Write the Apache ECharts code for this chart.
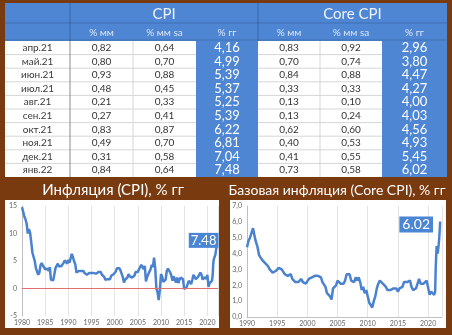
<!DOCTYPE html>
<html><head><meta charset="utf-8">
<script src="https://cdn.jsdelivr.net/npm/echarts@6/dist/echarts.min.js"></script>
<style>html,body{margin:0;padding:0;background:#7a3a10;}#c{width:452px;height:335px;}</style>
</head><body><div id="c"></div>
<script>
// ---- table data ----
const months = ['апр.21','май.21','июн.21','июл.21','авг.21','сен.21','окт.21','ноя.21','дек.21','янв.22'];
const cpiMM   = [0.82,0.80,0.93,0.48,0.21,0.27,0.83,0.49,0.31,0.84];
const cpiMMsa = [0.64,0.70,0.88,0.45,0.33,0.41,0.87,0.70,0.58,0.64];
const cpiYY   = [4.16,4.99,5.39,5.37,5.25,5.39,6.22,6.81,7.04,7.48];
const coreMM   = [0.83,0.70,0.84,0.33,0.13,0.13,0.62,0.40,0.41,0.73];
const coreMMsa = [0.92,0.74,0.88,0.33,0.10,0.24,0.60,0.53,0.55,0.58];
const coreYY   = [2.96,3.80,4.47,4.27,4.00,4.03,4.56,4.93,5.45,6.02];
const groupHeaders = ['CPI','Core CPI'];
const colHeaders = ['% мм','% мм sa','% гг','% мм','% мм sa','% гг'];

// ---- chart data (quarterly: Jan, Apr, Jul, Oct) ----
const cpiStartYear = 1980;
const cpiQuarterly = [
 14.8,14.7,13.1,12.6, 11.8,10.0,10.8,10.1, 8.4,6.5,6.4,5.0, 3.7,3.9,2.5,2.9,
 4.2,4.6,4.2,4.3, 3.5,3.7,3.6,3.2, 3.9,1.6,1.6,1.5, 1.5,3.8,3.9,4.5,
 4.0,3.9,4.1,4.2, 4.7,5.1,5.0,4.5, 5.2,4.7,4.8,6.3, 5.7,4.9,4.4,2.9,
 2.6,3.2,3.2,3.2, 3.3,3.2,2.8,2.8, 2.5,2.4,2.8,2.6, 2.8,3.1,2.8,2.8,
 2.7,2.9,3.0,3.0, 3.0,2.5,2.2,2.1, 1.6,1.4,1.7,1.5, 1.7,2.3,2.1,2.6,
 2.7,3.1,3.7,3.4, 3.7,3.3,2.7,2.1, 1.1,1.6,1.5,2.0, 2.6,2.2,2.1,2.0,
 1.9,2.3,3.0,3.2, 3.0,3.5,3.2,4.3, 4.0,3.5,4.1,1.3, 2.1,2.6,2.4,3.5,
 4.3,3.9,5.6,3.7, 0.0,-0.7,-2.1,-0.2, 2.6,2.2,1.2,1.2, 1.6,3.2,3.6,3.5,
 2.9,2.3,1.4,2.2, 1.6,1.1,2.0,1.0, 1.6,2.0,2.0,1.7, -0.1,-0.2,0.2,0.2,
 1.4,1.1,0.8,1.6, 2.5,2.2,1.7,2.0, 2.1,2.5,2.9,2.5, 1.6,2.0,1.8,1.8,
 2.5,0.3,1.0,1.2
];
const cpiEarly2021 = [1.4,1.7,2.6]; // Jan-Mar 2021, then cpiYY (Apr 21 - Jan 22)

const coreStartYear = 1990;
const coreQuarterly = [
 4.4,4.8,5.0,5.3, 5.6,5.1,4.7,4.4, 3.9,3.9,3.6,3.5, 3.4,3.4,3.2,3.0,
 2.9,2.8,2.9,2.9, 2.9,3.1,3.0,3.0, 2.9,2.7,2.7,2.6, 2.5,2.7,2.4,2.3,
 2.2,2.1,2.2,2.3, 2.4,2.2,2.1,2.1, 2.0,2.4,2.5,2.5, 2.6,2.6,2.7,2.6,
 2.6,2.5,2.2,2.2, 1.9,1.5,1.5,1.3, 1.1,1.8,1.8,2.0, 2.3,2.2,2.1,2.1,
 2.1,2.3,2.7,2.8, 2.7,2.3,2.2,2.2, 2.5,2.3,2.5,2.2, 1.7,1.9,1.5,1.7,
 1.6,0.9,0.9,0.6, 1.0,1.3,1.8,2.1, 2.3,2.3,2.1,2.0, 1.9,1.7,1.7,1.7,
 1.6,1.8,1.9,1.8, 1.6,1.8,1.8,1.9, 2.2,2.1,2.2,2.1, 2.3,1.9,1.7,1.8,
 1.8,2.1,2.4,2.1, 2.2,2.1,2.2,2.3, 2.3,1.4,1.6,1.6
];
const coreEarly2021 = [1.4,1.3,1.6];
const cpiYTicks = [-5,0,5,10,15];
const coreYTicks = [0,1,2,3,4,5,6,7];

function buildSeries(start, quarterly, early, table) {
  const pts = quarterly.map((v,i)=>[start + i/4, v]);
  early.concat(table).forEach((v,i)=>pts.push([2021 + i/12, v]));
  return pts;
}
const cpiData = buildSeries(cpiStartYear, cpiQuarterly, cpiEarly2021, cpiYY);
const coreData = buildSeries(coreStartYear, coreQuarterly, coreEarly2021, coreYY);

// ---- table drawing ----
const FONT = 'Lato, "Noto Sans", sans-serif';
const BLUE = '#4e86d3';
const cols = [5,70,133,196,258,320,382,447];
const tTop = 3, hMid = 23, dTop = 41, rowH = 13.6, nRows = months.length;
const tBot = dTop + rowH*nRows;
const g = [];
function rect(x,y,w,h,fill){ g.push({type:'rect',z:-5,shape:{x,y,width:w,height:h},style:{fill}}); }
function line(x1,y1,x2,y2,stroke,w){ g.push({type:'line',z:-4,shape:{x1,y1,x2,y2},style:{stroke,lineWidth:w||1}}); }
function text(x,y,t,size,fill){ g.push({type:'text',z:5,x,y,style:{text:t,fill,font:size+'px '+FONT,align:'center',verticalAlign:'middle',textAlign:'center',textVerticalAlign:'middle'}}); }
const fmt2 = v => v.toFixed(2).replace('.',',');

rect(cols[0],tTop,cols[7]-cols[0],tBot-tTop,BLUE);
rect(cols[0],dTop,cols[1]-cols[0],tBot-dTop,'#ffffff');
rect(cols[1],dTop,cols[3]-cols[1],tBot-dTop,'#ffffff');
rect(cols[4],dTop,cols[6]-cols[4],tBot-dTop,'#ffffff');
for (let r=1;r<nRows;r++){
  const y = dTop + r*rowH;
  line(cols[0],y,cols[3],y,'#d6d6d6');
  line(cols[4],y,cols[6],y,'#d6d6d6');
}
line(cols[2],dTop,cols[2],tBot,'#d6d6d6');
line(cols[5],dTop,cols[5],tBot,'#d6d6d6');
line(cols[1],tTop,cols[1],dTop,'rgba(20,50,100,0.35)');
line(cols[1],dTop,cols[1],tBot,'#8a8a8a');
line(cols[4],tTop,cols[4],dTop,'rgba(20,50,100,0.35)');
line(cols[0],hMid,cols[7],hMid,'rgba(20,50,100,0.25)');
line(cols[0],dTop-1,cols[7],dTop-1,'rgba(20,50,100,0.25)');

text((cols[1]+cols[4])/2,(tTop+hMid)/2+1,groupHeaders[0],15,'#eef3fb');
text((cols[4]+cols[7])/2,(tTop+hMid)/2+1,groupHeaders[1],15,'#eef3fb');
colHeaders.forEach((h,i)=>{ const c = i+1; text((cols[c]+cols[c+1])/2,(hMid+dTop)/2+1,h,10,'#dce7f7'); });
const tableCols = [cpiMM,cpiMMsa,cpiYY,coreMM,coreMMsa,coreYY];
months.forEach((m,r)=>{
  const y = dTop + (r+0.5)*rowH;
  text((cols[0]+cols[1])/2,y,m,10,'#3a3a3a');
  tableCols.forEach((arr,c)=>{
    const isYY = (c===2||c===5);
    text((cols[c+1]+cols[c+2])/2, y, fmt2(arr[r]), isYY?13:10, isYY?'#ffffff':'#333333');
  });
});

// chart panels & titles
rect(5,200,214,128,'#ffffff');
rect(230,200,216,128,'#ffffff');
text(113,190,'Инфляция (CPI), % гг',15,'#ffffff');
text(337,190,'Базовая инфляция (Core CPI), % гг',14,'#ffffff');

const axisLabelStyle = {fontSize:7,color:'#666',fontFamily:FONT};
const chart = echarts.init(document.getElementById('c'));
chart.setOption({
  animation:false,
  backgroundColor:'#7a3a10',
  graphic: g,
  grid:[
    {left:22,top:206,width:196,height:110},
    {left:247,top:206,width:195,height:111}
  ],
  xAxis:[
    {type:'value',gridIndex:0,min:1980,max:2022.3,interval:5,
     axisLine:{lineStyle:{color:'#bfbfbf'}},axisTick:{show:false},
     axisLabel:Object.assign({margin:3,showMaxLabel:false,formatter:v=>v%5===0?String(v):''},axisLabelStyle),
     splitLine:{show:true,lineStyle:{color:'#e4e4e4'}}},
    {type:'value',gridIndex:1,min:1990,max:2022.3,interval:5,
     axisLine:{lineStyle:{color:'#bfbfbf'}},axisTick:{show:false},
     axisLabel:Object.assign({margin:3,showMaxLabel:false,formatter:v=>v%5===0?String(v):''},axisLabelStyle),
     splitLine:{show:true,lineStyle:{color:'#e4e4e4'}}}
  ],
  yAxis:[
    {type:'value',gridIndex:0,min:cpiYTicks[0],max:cpiYTicks[cpiYTicks.length-1],interval:5,
     axisLine:{show:true,lineStyle:{color:'#bfbfbf'}},axisTick:{show:false},
     axisLabel:Object.assign({margin:5},axisLabelStyle),splitLine:{show:false}},
    {type:'value',gridIndex:1,min:coreYTicks[0],max:coreYTicks[coreYTicks.length-1],interval:1,
     axisLine:{show:true,lineStyle:{color:'#bfbfbf'}},axisTick:{show:false},
     axisLabel:Object.assign({margin:5,formatter:v=>v.toFixed(1).replace('.',',')},axisLabelStyle),splitLine:{show:false}}
  ],
  series:[
    {type:'line',xAxisIndex:0,yAxisIndex:0,data:cpiData,showSymbol:false,
     lineStyle:{width:2.5,color:'#4a82cf'},itemStyle:{color:'#4a82cf'},
     markLine:{silent:true,symbol:['none','none'],label:{show:false},
       lineStyle:{color:'#e07070',type:'solid',width:1},data:[{yAxis:0}]},
     markPoint:{symbol:'rect',symbolSize:1,itemStyle:{color:'rgba(0,0,0,0)'},
       label:{show:true,position:'inside',offset:[-13,-7],formatter:String(cpiYY[cpiYY.length-1]),
         backgroundColor:'#4a86d4',color:'#fff',fontSize:13,fontFamily:FONT,padding:[1,2]},
       data:[{coord:cpiData[cpiData.length-1]}]}},
    {type:'line',xAxisIndex:1,yAxisIndex:1,data:coreData,showSymbol:false,
     lineStyle:{width:2.5,color:'#4a82cf'},itemStyle:{color:'#4a82cf'},
     markPoint:{symbol:'rect',symbolSize:1,itemStyle:{color:'rgba(0,0,0,0)'},
       label:{show:true,position:'inside',offset:[-24,3],formatter:coreYY[coreYY.length-1].toFixed(2),
         backgroundColor:'#4a86d4',color:'#fff',fontSize:14,fontFamily:FONT,padding:[1,3]},
       data:[{coord:coreData[coreData.length-1]}]}}
  ]
});
</script></body></html>
